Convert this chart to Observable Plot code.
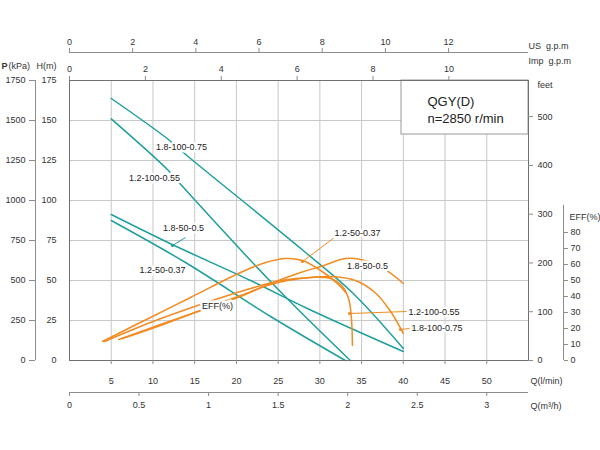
<!DOCTYPE html>
<html><head><meta charset="utf-8">
<script src="https://cdn.jsdelivr.net/npm/d3@7"></script>
<script src="https://cdn.jsdelivr.net/npm/@observablehq/plot@0.6"></script>
<style>html,body{margin:0;padding:0;background:#fff;}</style>
</head><body><div id="chart"></div>
<script>
// ---------------- data ----------------
const qTicks   = [5,10,15,20,25,30,35,40,45,50];          // l/min
const hTicks   = [0,25,50,75,100,125,150,175];            // m
const pTicks   = [0,250,500,750,1000,1250,1500,1750];     // kPa
const ftTicks  = [0,100,200,300,400,500];                 // feet
const effTicks = [0,10,20,30,40,50,60,70,80];             // %
const usTicks  = [0,2,4,6,8,10,12];                       // US g.p.m
const impTicks = [0,2,4,6,8,10];                          // Imp g.p.m
const m3Ticks  = [0,0.5,1,1.5,2,2.5,3];                   // m3/h

const pumps = ["1.8-100-0.75","1.2-100-0.55","1.8-50-0.5","1.2-50-0.37"];

// head curves: Q (l/min) -> H (m)
const headQ_18_100 = [5, 11.7, 14.1, 28, 34, 40];
const headH_18_100 = [163.75, 138.75, 128, 68.75, 41.9, 7.5];
const headQ_12_100 = [5, 11.85, 13.5, 24.9, 33.65];
const headH_12_100 = [151, 118.75, 109, 45, 0];
const headQ_18_50  = [5, 12.3, 21.7, 28.5, 40];
const headH_18_50  = [91.25, 72.5, 50, 32.5, 5.6];
const headQ_12_50  = [5, 13.9, 24.1, 33.05];
const headH_12_50  = [87.5, 61.25, 27.5, 0];

// efficiency curves: Q (l/min) -> EFF (%)
const effQ_18_100 = [6.35, 10.9, 15.7, 20.5, 24.1, 27.7, 31.3, 34.25, 36.6, 38.4, 40];
const effE_18_100 = [13.75, 21.9, 31.25, 40.6, 47.5, 51.25, 52.5, 50, 42.5, 31.25, 16.9];
const effQ_12_100 = [4.2, 9.7, 15.7, 21.7, 25.3, 28.9, 31.3, 32.8, 33.5, 33.8, 33.9];
const effE_12_100 = [11.9, 23.75, 35, 45, 50, 51.9, 51.25, 45.6, 37.5, 25, 9.4];
const effQ_18_50  = [5.9, 10.9, 15.7, 20.5, 24.1, 27.7, 30.1, 33.1, 35.4, 37.8, 40];
const effE_18_50  = [13.1, 22.5, 31.25, 40, 48.1, 55, 58.75, 63.75, 62.5, 56.9, 48.1];
const effQ_12_50  = [3.95, 9.7, 14.5, 20.5, 23.5, 25.9, 27.9, 30.1, 32.1, 33.1];
const effE_12_50  = [11.9, 26.9, 39.4, 55, 61.25, 63.75, 62.5, 56.25, 48.1, 42.5];

const headQ = [headQ_18_100, headQ_12_100, headQ_18_50, headQ_12_50];
const headH = [headH_18_100, headH_12_100, headH_18_50, headH_12_50];
const effQ  = [effQ_18_100, effQ_12_100, effQ_18_50, effQ_12_50];
const effE  = [effE_18_100, effE_12_100, effE_18_50, effE_12_50];

const headRows = [], effRows = [];
pumps.forEach((name, i) => {
  headQ[i].forEach((q, j) => headRows.push({name, q, v: headH[i][j]}));
  effQ[i].forEach((q, j) => effRows.push({name, q, v: effE[i][j]}));
});

// ---------------- layout helpers (pixel -> scale units) ----------------
const X0 = 69, X1 = 528, Y0 = 360, Y1 = 80, QMAX = 55, HMAX = 175;
const qp = px => (px - X0) / (X1 - X0) * QMAX;
const hp = py => (Y0 - py) / (Y0 - Y1) * HMAX;
const US = 3.78541, IMP = 4.54609, M3 = 1000 / 60, FT = 0.3048;

const teal = "#1f9f9d", orange = "#f28b22", grid = "#c8c8c8", axc = "#8c8c8c", txt = "#333";

const tealLabels = [
  {t: "1.8-100-0.75", x: qp(181), y: hp(147)},
  {t: "1.2-100-0.55", x: qp(154), y: hp(178)},
  {t: "1.8-50-0.5",   x: qp(183), y: hp(228)},
  {t: "1.2-50-0.37",  x: qp(162), y: hp(270)}
];
const orangeMid = [
  {t: "1.2-50-0.37", x: qp(357), y: hp(233)},
  {t: "1.8-50-0.5",  x: qp(367), y: hp(266)},
  {t: "EFF(%)",      x: qp(217), y: hp(306)}
];
const orangeStart = [
  {t: "1.2-100-0.55", x: qp(408), y: hp(312)},
  {t: "1.8-100-0.75", x: qp(411), y: hp(328)}
];
const leaders = [
  {x1: qp(185), y1: hp(237), x2: qp(172), y2: hp(245), c: teal},
  {x1: qp(334), y1: hp(237), x2: qp(302), y2: hp(261), c: orange},
  {x1: qp(406), y1: hp(311), x2: qp(349), y2: hp(313), c: orange},
  {x1: qp(409), y1: hp(328), x2: qp(400), y2: hp(329), c: orange}
];

const chart = Plot.plot({
  width: 600, height: 450,
  marginLeft: X0, marginRight: 600 - X1, marginTop: Y1, marginBottom: 450 - Y0,
  x: {domain: [0, QMAX], axis: null},
  y: {domain: [0, HMAX], axis: null},
  style: {fontFamily: "'Liberation Sans', Arial, sans-serif", fontSize: "9px", color: txt, background: "#fff"},
  marks: [
    // grid
    Plot.ruleX(qTicks, {stroke: grid}),
    Plot.ruleY([25, 50, 75, 100, 125, 150], {stroke: grid}),

    // info box
    Plot.rect([0], {x1: () => qp(401), x2: () => QMAX, y1: () => hp(134), y2: () => HMAX, fill: "white", stroke: "#999"}),
    Plot.text(["QGY(D)"], {x: () => qp(427), y: () => hp(101), text: d => d, textAnchor: "start", fontSize: 13, fill: "#222"}),
    Plot.text(["n=2850 r/min"], {x: () => qp(427), y: () => hp(118), text: d => d, textAnchor: "start", fontSize: 13, fill: "#222"}),

    // curves
    Plot.line(headRows, {x: "q", y: "v", z: "name", stroke: teal, strokeWidth: 1.5, curve: "catmull-rom"}),
    Plot.line(effRows, {x: "q", y: "v", z: "name", stroke: orange, strokeWidth: 1.5, curve: "catmull-rom"}),

    // leaders
    Plot.link(leaders, {x1: "x1", y1: "y1", x2: "x2", y2: "y2", stroke: "c", strokeWidth: 1}),
    Plot.dot(leaders, {x: "x2", y: "y2", r: 1.6, fill: "c"}),

    // labels
    Plot.text(tealLabels, {x: "x", y: "y", text: "t", fill: "#222", stroke: "white", strokeWidth: 5}),
    Plot.text(orangeMid, {x: "x", y: "y", text: "t", fill: "#222", stroke: "white", strokeWidth: 5}),
    Plot.text(orangeStart, {x: "x", y: "y", text: "t", textAnchor: "start", fill: "#222", stroke: "white", strokeWidth: 4}),

    // frame
    Plot.frame({stroke: "#707070"}),

    // bottom: Q (l/min)
    Plot.ruleX(qTicks, {y1: 0, y2: () => hp(364), stroke: axc}),
    Plot.text(qTicks, {x: d => d, y: () => hp(381), text: d => String(d)}),
    Plot.text(["Q(l/min)"], {x: () => qp(530), y: () => hp(381), text: d => d, textAnchor: "start"}),

    // bottom: Q (m3/h)
    Plot.ruleY([0], {y: () => hp(392), x1: 0, x2: QMAX, stroke: axc}),
    Plot.ruleX(m3Ticks, {x: d => d * M3, y1: () => hp(392), y2: () => hp(396), stroke: axc}),
    Plot.text(m3Ticks, {x: d => d * M3, y: () => hp(405), text: d => String(d)}),
    Plot.text(["Q(m³/h)"], {x: () => qp(530), y: () => hp(406), text: d => d, textAnchor: "start"}),

    // top: US g.p.m
    Plot.ruleY([0], {y: () => hp(52), x1: 0, x2: QMAX, stroke: axc}),
    Plot.ruleX(usTicks, {x: d => d * US, y1: () => hp(52), y2: () => hp(48), stroke: axc}),
    Plot.text(usTicks, {x: d => d * US, y: () => hp(42), text: d => String(d)}),
    Plot.text(["US\u00a0 g.p.m"], {x: () => qp(528), y: () => hp(46), text: d => d, textAnchor: "start"}),

    // top: Imp g.p.m (on frame top)
    Plot.ruleX(impTicks, {x: d => d * IMP, y1: () => HMAX, y2: () => hp(76), stroke: axc}),
    Plot.text(impTicks, {x: d => d * IMP, y: () => hp(69), text: d => String(d)}),
    Plot.text(["Imp\u00a0 g.p.m"], {x: () => qp(528), y: () => hp(61), text: d => d, textAnchor: "start"}),

    // left: P (kPa)
    Plot.ruleX([0], {x: () => qp(35), y1: 0, y2: HMAX, stroke: axc}),
    Plot.ruleY(pTicks, {y: d => d / 10, x1: () => qp(29), x2: () => qp(35), stroke: axc}),
    Plot.text(pTicks, {x: () => qp(25), y: d => d / 10, text: d => String(d), textAnchor: "end"}),
    Plot.text(["P"], {x: () => qp(1), y: () => hp(66), text: d => d, textAnchor: "start", fontWeight: "bold"}),
    Plot.text(["(kPa)"], {x: () => qp(8), y: () => hp(66), text: d => d, textAnchor: "start"}),

    // left: H (m)
    Plot.text(hTicks, {x: () => qp(56), y: d => d, text: d => String(d), textAnchor: "end"}),
    Plot.text(["H(m)"], {x: () => qp(36), y: () => hp(66), text: d => d, textAnchor: "start"}),

    // right: feet
    Plot.ruleY(ftTicks, {y: d => d * FT, x1: () => QMAX, x2: () => qp(533), stroke: axc}),
    Plot.text(ftTicks, {x: () => qp(537), y: d => d * FT, text: d => String(d), textAnchor: "start"}),
    Plot.text(["feet"], {x: () => qp(537), y: () => hp(85), text: d => d, textAnchor: "start"}),

    // right: EFF (%)
    Plot.ruleX([0], {x: () => qp(563), y1: 0, y2: 97, stroke: axc}),
    Plot.ruleY(effTicks, {y: d => d, x1: () => qp(564), x2: () => qp(568), stroke: axc}),
    Plot.text(effTicks, {x: () => qp(570), y: d => d, text: d => String(d), textAnchor: "start"}),
    Plot.text(["EFF(%)"], {x: () => qp(569), y: () => hp(217), text: d => d, textAnchor: "start"})
  ]
});
document.getElementById("chart").appendChild(chart);
</script>
</body></html>
